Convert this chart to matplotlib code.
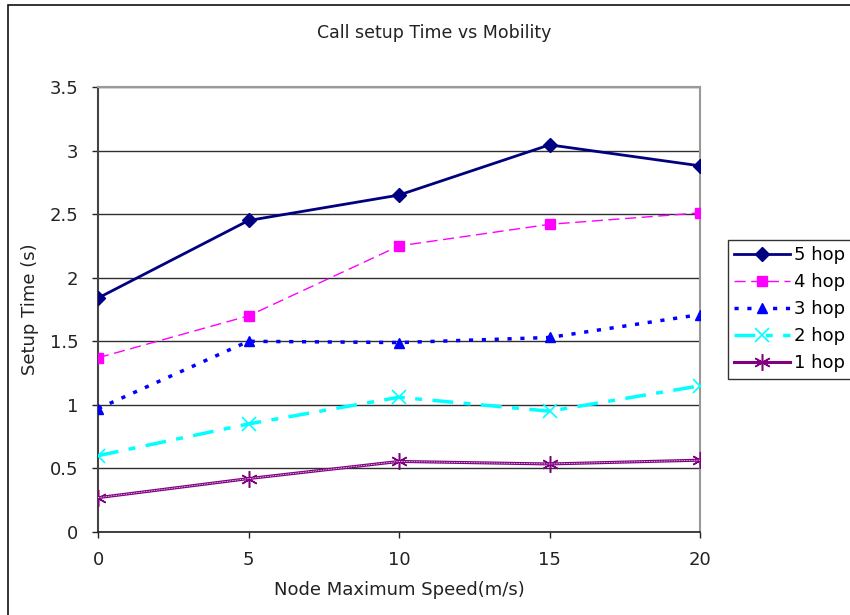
import matplotlib
matplotlib.use("Agg")
import matplotlib.pyplot as plt
from matplotlib.patches import Rectangle

speeds = [0, 5, 10, 15, 20]
hop5 = [1.84, 2.45, 2.65, 3.045, 2.88]
hop4 = [1.37, 1.70, 2.25, 2.42, 2.51]
hop3 = [0.97, 1.50, 1.49, 1.53, 1.71]
hop2 = [0.60, 0.85, 1.06, 0.95, 1.15]
hop1 = [0.27, 0.42, 0.555, 0.535, 0.565]
yticks = [0, 0.5, 1, 1.5, 2, 2.5, 3, 3.5]
ytick_labels = ["0", "0.5", "1", "1.5", "2", "2.5", "3", "3.5"]

plt.rcParams['font.family'] = ['DejaVu Sans']
fig = plt.figure(figsize=(8.5, 6.15), dpi=100)
ax = fig.add_axes([98/850, 1-532/615, (700-98)/850, (532-87)/615])

ax.plot(speeds, hop5, color='#000080', lw=2, marker='D', ms=7, label='5 hop', zorder=5)
ax.plot(speeds, hop4, color='#FF00FF', lw=1, ls=(0, (8, 4)), marker='s', ms=6.5, label='4 hop', zorder=5)
ax.plot(speeds, hop3, color='#0000FF', lw=2.5, ls=(0, (1.2, 2.5)), marker='^', ms=7.5, label='3 hop', zorder=5)
ax.plot(speeds, hop2, color='#00FFFF', lw=2.5, ls=(0, (6, 3, 2, 3)), marker='x', ms=10, mew=1.2, label='2 hop', zorder=5)
ax.plot(speeds, hop1, color='#800080', lw=2.2, marker=(6, 2, 0), ms=12, mew=1.1, label='1 hop', zorder=5)
ax.plot(speeds, hop1, color='white', lw=0.6, ls=(0, (1, 1)), zorder=6)

ax.set_xlim(0, 20)
ax.set_ylim(0, 3.5)
ax.set_xticks(speeds)
ax.set_xticklabels([str(s) for s in speeds])
ax.set_yticks(yticks)
ax.set_yticklabels(ytick_labels)
ax.yaxis.grid(True, color='#303030', lw=1)
ax.set_axisbelow(True)
for s in ['top', 'right']:
    ax.spines[s].set_color('#999999')
    ax.spines[s].set_linewidth(1.5)
ax.spines['left'].set_color('#444444')
ax.spines['left'].set_linewidth(1.5)
ax.spines['bottom'].set_color('#222222')
ax.spines['bottom'].set_linewidth(1.2)
ax.tick_params(axis='both', direction='out', length=4, width=1, labelsize=13, colors='#222222')
ax.tick_params(axis='x', pad=10)
ax.tick_params(axis='y', pad=10)
for lab in ax.get_xticklabels() + ax.get_yticklabels():
    lab.set_color('#222222')

ax.set_xlabel('Node Maximum Speed(m/s)', fontsize=13, color='#222222', labelpad=8)
ax.set_ylabel('Setup Time (s)', fontsize=13, color='#222222', labelpad=8)
fig.text(434/850, 1-33/615, 'Call setup Time vs Mobility', ha='center', va='center', fontsize=12.5, color='#222222')

leg = fig.legend(loc='upper left', bbox_to_anchor=(728/850, 1-240/615), frameon=True,
                 fancybox=False, fontsize=13, handlelength=3.1, borderpad=0.35, labelspacing=0.5,
                 handletextpad=0.2, borderaxespad=0)
leg.get_frame().set_edgecolor('black')
leg.get_frame().set_linewidth(1)

fig.patches.append(Rectangle((8/850, -0.1), 1.2, 1 - 5/615 + 0.1, transform=fig.transFigure,
                             fill=False, edgecolor='#111111', lw=1.2, figure=fig))

fig.savefig('out.png', dpi=100)
